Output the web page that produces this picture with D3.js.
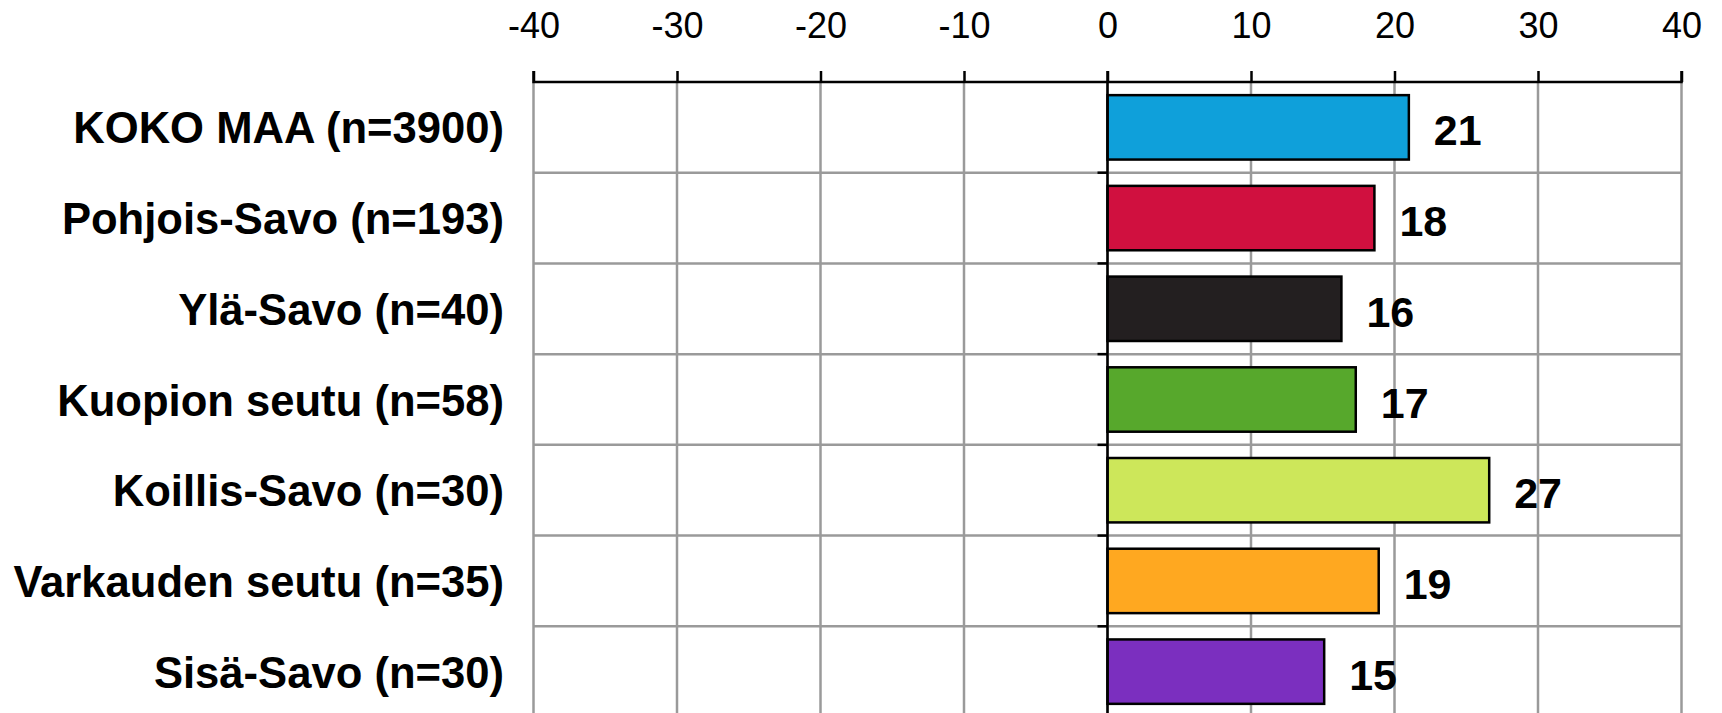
<!DOCTYPE html>
<html>
<head>
<meta charset="utf-8">
<script src="https://cdn.jsdelivr.net/npm/d3@7"></script>
<style>
  html, body { margin: 0; padding: 0; background: #fff; }
  svg { display: block; }
</style>
</head>
<body>
<svg id="chart" width="1722" height="713"></svg>
<script>
const categories = [
  "KOKO MAA (n=3900)",
  "Pohjois-Savo (n=193)",
  "Ylä-Savo (n=40)",
  "Kuopion seutu (n=58)",
  "Koillis-Savo (n=30)",
  "Varkauden seutu (n=35)",
  "Sisä-Savo (n=30)"
];
const values = [21.0, 18.6, 16.3, 17.3, 26.6, 18.9, 15.1];
const valueLabels = ["21", "18", "16", "17", "27", "19", "15"];
const colors = ["#0fa0da", "#d0103f", "#231f20", "#57a82c", "#cde75a", "#ffa820", "#7b2fbf"];
const tickValues = [-40, -30, -20, -10, 0, 10, 20, 30, 40];

const svg = d3.select("#chart");
const font = "'Liberation Sans', Arial, Helvetica, sans-serif";

const x = d3.scaleLinear().domain([-40, 40]).range([533.5, 1681.5]);
const y = d3.scaleBand().domain(categories).range([82, 717]).paddingInner(0.29).paddingOuter(0.145);

// vertical gridlines
svg.append("g").selectAll("line").data(tickValues).join("line")
  .attr("x1", d => x(d)).attr("x2", d => x(d))
  .attr("y1", 82).attr("y2", 713)
  .attr("stroke", "#9a9a9a").attr("stroke-width", 2.5);

// horizontal gridlines at category boundaries
const boundaries = categories.slice(1);
const bY = d => y(d) - (y.step() - y.bandwidth()) / 2;
svg.append("g").selectAll("line").data(boundaries).join("line")
  .attr("x1", x(-40)).attr("x2", x(40))
  .attr("y1", bY).attr("y2", bY)
  .attr("stroke", "#9a9a9a").attr("stroke-width", 2.5);

// top axis
const axis = d3.axisTop(x).tickValues(tickValues).tickSize(11).tickPadding(33).tickFormat(d3.format("d"));
const ag = svg.append("g").attr("transform", "translate(0,82)").call(axis);
ag.select(".domain").attr("stroke", "#000").attr("stroke-width", 2.5).attr("d", `M${x(-40)},-11V0H${x(40)}V-11`);
ag.selectAll(".tick line").attr("stroke", "#000").attr("stroke-width", 2.5);
ag.selectAll(".tick text")
  .attr("font-family", font).attr("font-size", 36).attr("fill", "#000")
  .text(d => d < 0 ? "-" + Math.abs(d) : String(d));

// bars
svg.append("g").selectAll("rect").data(categories).join("rect")
  .attr("x", x(0))
  .attr("y", d => y(d))
  .attr("width", (d, i) => x(values[i]) - x(0))
  .attr("height", y.bandwidth())
  .attr("fill", (d, i) => colors[i])
  .attr("stroke", "#000").attr("stroke-width", 2.5);

// zero line with small left ticks
svg.append("line")
  .attr("x1", x(0)).attr("x2", x(0)).attr("y1", 71).attr("y2", 713)
  .attr("stroke", "#000").attr("stroke-width", 2.5);
svg.append("g").selectAll("line").data(boundaries).join("line")
  .attr("x1", x(0) - 10).attr("x2", x(0))
  .attr("y1", bY).attr("y2", bY)
  .attr("stroke", "#000").attr("stroke-width", 2.5);

// category labels
svg.append("g").selectAll("text").data(categories).join("text")
  .attr("x", 504)
  .attr("y", d => y(d) + y.bandwidth() / 2 + 16)
  .attr("text-anchor", "end")
  .attr("font-family", font).attr("font-size", 43.6).attr("font-weight", "bold")
  .attr("fill", "#000")
  .text(d => d);

// value labels
svg.append("g").selectAll("text").data(categories).join("text")
  .attr("x", (d, i) => x(values[i]) + 25)
  .attr("y", d => y(d) + y.bandwidth() / 2 + 18)
  .attr("font-family", font).attr("font-size", 43).attr("font-weight", "bold")
  .attr("fill", "#000")
  .text((d, i) => valueLabels[i]);
</script>
</body>
</html>
